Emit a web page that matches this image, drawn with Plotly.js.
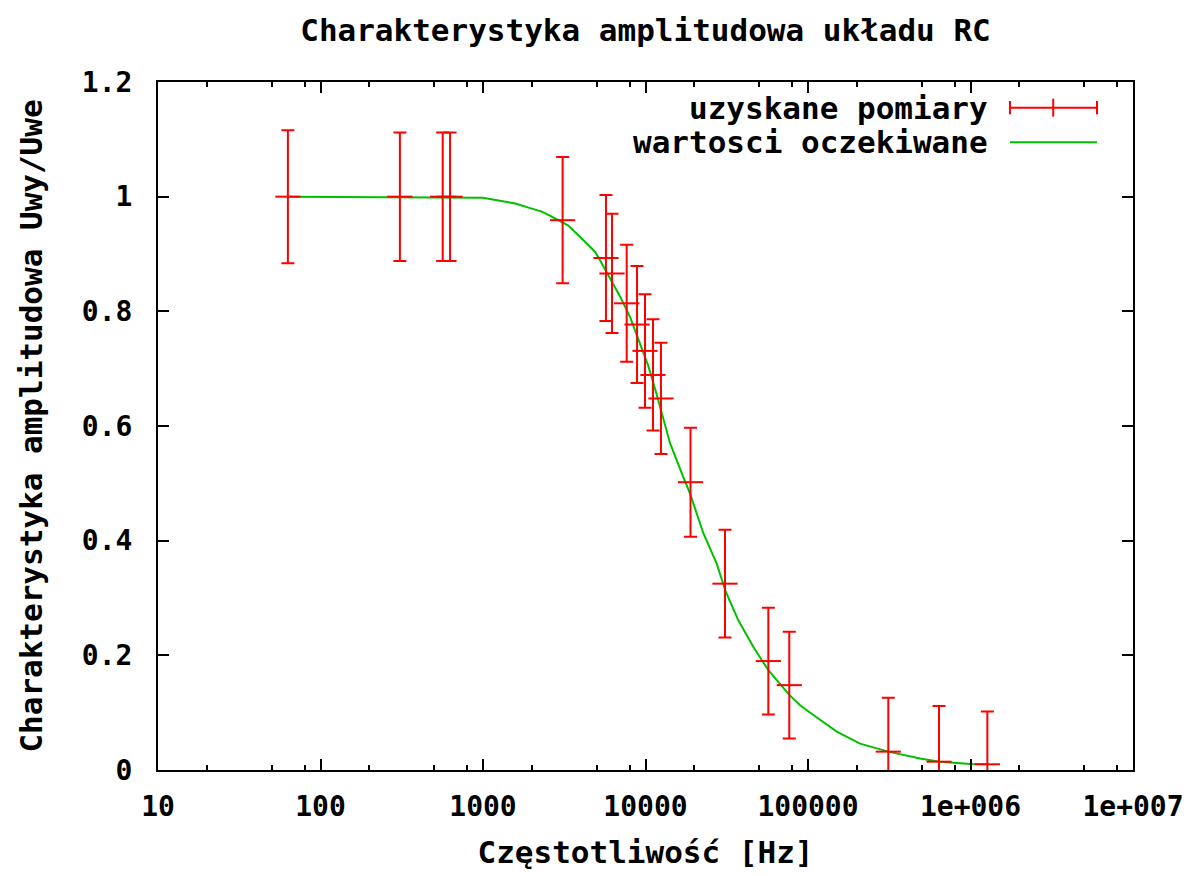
<!DOCTYPE html>
<html>
<head>
<meta charset="utf-8">
<script src="https://cdn.plot.ly/plotly-3.0.1.min.js"></script>
<style>html,body{margin:0;padding:0;background:#fff;}#chart{width:1192px;height:876px;}</style>
</head>
<body>
<div id="chart"></div>
<script>
// Measured points (frequency in Hz, Uwy/Uwe, error)
var measFreq = [63, 308, 565, 627, 3090, 5710, 6220, 7660, 8870, 9930, 11120, 12450, 18920, 30850, 57000, 76700, 312000, 640000, 1270000];
var measVal  = [1.0, 1.0, 1.0, 1.0, 0.959, 0.893, 0.866, 0.814, 0.777, 0.731, 0.689, 0.648, 0.502, 0.325, 0.190, 0.148, 0.032, 0.0145, 0.010];
var measErr  = [0.116, 0.112, 0.112, 0.112, 0.110, 0.110, 0.104, 0.102, 0.102, 0.099, 0.097, 0.097, 0.095, 0.094, 0.093, 0.093, 0.094, 0.097, 0.092];

// Expected curve
var expFreq = [63, 627, 1000, 1270, 1580, 1950, 2300, 2580, 3090, 3330, 3950, 4890, 5250, 6050, 6970, 8040, 9250, 10400, 11720, 12580, 14160, 17090, 18800, 22700, 27420, 31170, 37250, 46040, 57000, 76760, 89300, 107900, 150300, 209100, 312000, 488700, 648600, 993000, 1289000];
var expVal  = [1.0, 0.999, 0.998, 0.993, 0.988, 0.980, 0.974, 0.967, 0.956, 0.950, 0.930, 0.904, 0.889, 0.858, 0.826, 0.790, 0.745, 0.705, 0.655, 0.622, 0.570, 0.511, 0.482, 0.413, 0.360, 0.311, 0.261, 0.215, 0.174, 0.131, 0.113, 0.096, 0.067, 0.046, 0.032, 0.020, 0.0145, 0.0105, 0.010];

// Axis ticks
var xTickVals = [10, 100, 1000, 10000, 100000, 1000000, 10000000];
var xTickText = ["10", "100", "1000", "10000", "100000", "1e+006", "1e+007"];
var xMinorVals = [20, 50, 80, 200, 500, 800, 2000, 5000, 8000, 20000, 50000, 80000, 200000, 500000, 800000, 2000000, 5000000, 8000000];
var yTickVals = [0, 0.2, 0.4, 0.6, 0.8, 1.0, 1.2];
var yTickText = ["0", "0.2", "0.4", "0.6", "0.8", "1", "1.2"];

var seriesNames = ["uzyskane pomiary", "wartosci oczekiwane"];
var RED = "#ff0000", GREEN = "#00c000";
var FONT = "DejaVu Sans Mono";

var traces = [
  {
    x: expFreq, y: expVal, type: "scatter", mode: "lines",
    name: seriesNames[1], line: {color: GREEN, width: 2}, showlegend: false
  },
  {
    x: measFreq, y: measVal, type: "scatter", mode: "markers",
    name: seriesNames[0], showlegend: false,
    marker: {symbol: "line-ew", size: 18, color: RED, line: {color: RED, width: 2}},
    error_y: {type: "data", array: measErr, visible: true, color: RED, thickness: 2, width: 6.5}
  }
];

// Legend (gnuplot style: text on the left, sample on the right)
var L = {x0: 0.8738, x1: 0.9631, xm: 0.9182, y1: 0.9627, y2: 0.9124, textX: 0.8533};
var layout = {
  width: 1192, height: 876,
  margin: {l: 158, r: 59, t: 82, b: 106},
  paper_bgcolor: "#fff", plot_bgcolor: "#fff",
  font: {family: FONT, size: 28, color: "#000", weight: "bold"},
  title: {text: "Charakterystyka amplitudowa układu RC", x: 0.5, xref: "paper", xanchor: "center",
          y: 1 - 30/876, yref: "container", yanchor: "middle",
          font: {family: FONT, size: 31, color: "#000", weight: "bold"}},
  xaxis: {
    type: "log", range: [1, 7],
    tickmode: "array", tickvals: xTickVals, ticktext: xTickText,
    ticks: "inside", ticklen: 11, tickwidth: 2, tickcolor: "#000",
    minor: {tickmode: "array", tickvals: xMinorVals, ticks: "inside", ticklen: 5, tickwidth: 2, tickcolor: "#000", showgrid: false},
    showline: true, linecolor: "#000", linewidth: 2, mirror: "allticks",
    showgrid: false, zeroline: false,
    tickfont: {family: FONT, size: 28, color: "#000", weight: "bold"},
    ticklabelstandoff: 10,
    title: {text: "Częstotliwość [Hz]", standoff: 20, font: {family: FONT, size: 31, color: "#000", weight: "bold"}}
  },
  yaxis: {
    range: [0, 1.2],
    tickmode: "array", tickvals: yTickVals, ticktext: yTickText,
    ticks: "inside", ticklen: 11, tickwidth: 2, tickcolor: "#000",
    showline: true, linecolor: "#000", linewidth: 2, mirror: "allticks",
    showgrid: false, zeroline: false,
    tickfont: {family: FONT, size: 28, color: "#000", weight: "bold"},
    ticklabelstandoff: 18,
    title: {text: "Charakterystyka amplitudowa Uwy/Uwe", standoff: 30, font: {family: FONT, size: 31, color: "#000", weight: "bold"}}
  },
  showlegend: false,
  annotations: [
    {text: seriesNames[0], xref: "paper", yref: "paper", x: L.textX, y: L.y1, xanchor: "right", yanchor: "middle", showarrow: false,
     font: {family: FONT, size: 31, color: "#000", weight: "bold"}},
    {text: seriesNames[1], xref: "paper", yref: "paper", x: L.textX, y: L.y2, xanchor: "right", yanchor: "middle", showarrow: false,
     font: {family: FONT, size: 31, color: "#000", weight: "bold"}}
  ],
  shapes: [
    {type: "line", xref: "paper", yref: "paper", x0: L.x0, x1: L.x1, y0: L.y1, y1: L.y1, line: {color: RED, width: 2}},
    {type: "line", xref: "paper", yref: "paper", x0: L.x0, x1: L.x0, y0: L.y1 - 0.0097, y1: L.y1 + 0.0097, line: {color: RED, width: 2}},
    {type: "line", xref: "paper", yref: "paper", x0: L.x1, x1: L.x1, y0: L.y1 - 0.0097, y1: L.y1 + 0.0097, line: {color: RED, width: 2}},
    {type: "line", xref: "paper", yref: "paper", x0: L.xm, x1: L.xm, y0: L.y1 - 0.013, y1: L.y1 + 0.013, line: {color: RED, width: 2}},
    {type: "line", xref: "paper", yref: "paper", x0: L.x0, x1: L.x1, y0: L.y2, y1: L.y2, line: {color: GREEN, width: 2}}
  ]
};

Plotly.newPlot("chart", traces, layout, {displayModeBar: false, staticPlot: true});
</script>
</body>
</html>
